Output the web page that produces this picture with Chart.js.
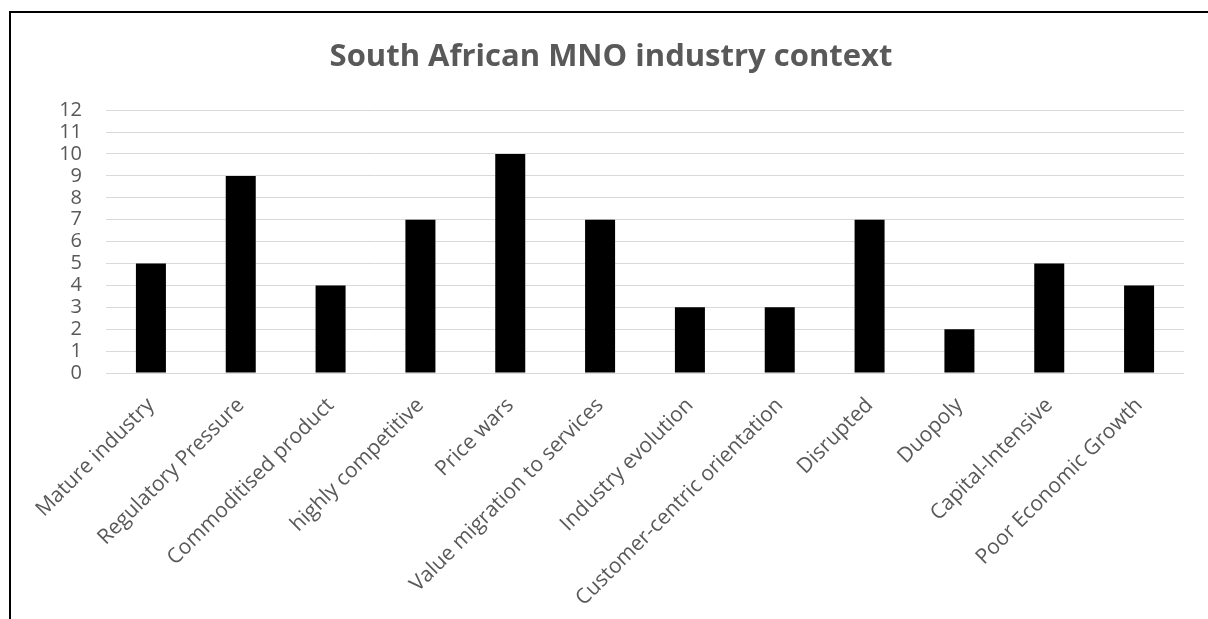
<!DOCTYPE html>
<html>
<head>
<meta charset="utf-8">
<script src="https://cdn.jsdelivr.net/npm/chart.js@4/dist/chart.umd.min.js"></script>
<style>
  html, body { margin: 0; padding: 0; background: #fff; overflow: hidden; }
  #wrap { position: relative; width: 1208px; height: 619px; }
  #frame { position: absolute; left: 9px; top: 11px; width: 1300px; height: 700px;
           border-left: 2px solid #000; border-top: 2px solid #000; box-sizing: border-box; }
  canvas { position: absolute; left: 0; top: 0; }
</style>
</head>
<body>
<div id="wrap">
  <canvas id="c" width="1208" height="619"></canvas>
  <div id="frame"></div>
</div>
<script>
const chartTitle = "South African MNO industry context";
const categories = [
  "Mature industry", "Regulatory Pressure", "Commoditised product", "highly competitive",
  "Price wars", "Value migration to services", "Industry evolution",
  "Customer-centric orientation", "Disrupted", "Duopoly", "Capital-Intensive",
  "Poor Economic Growth"
];
const values = [5, 9, 4, 7, 10, 7, 3, 3, 7, 2, 5, 4];
const yMin = 0, yMax = 12, yStep = 1;

const FONT = "'Open Sans', 'DejaVu Sans', sans-serif";
const GREY = "#595959";

new Chart(document.getElementById('c'), {
  type: 'bar',
  data: {
    labels: categories,
    datasets: [{
      data: values,
      backgroundColor: '#000000',
      borderWidth: 0,
      barPercentage: 0.334,
      categoryPercentage: 1.0
    }]
  },
  options: {
    responsive: false,
    animation: false,
    devicePixelRatio: 1,
    layout: { padding: { left: 38, right: 24, top: 0, bottom: 0 } },
    plugins: {
      legend: { display: false },
      tooltip: { enabled: false },
      title: {
        display: true,
        text: chartTitle,
        color: GREY,
        font: { family: FONT, size: 31, weight: 'bold', lineHeight: 1.2 },
        padding: { top: 39, bottom: 34 }
      }
    },
    scales: {
      x: {
        grid: { display: false, drawTicks: false },
        border: { display: false },
        ticks: {
          color: GREY,
          font: { family: FONT, size: 21 },
          minRotation: 45, maxRotation: 45,
          autoSkip: false,
          padding: 20
        },
        afterFit: (s) => { s.height = 246; }
      },
      y: {
        min: yMin, max: yMax,
        grid: { color: '#d9d9d9', lineWidth: 1, drawTicks: false },
        border: { display: false },
        ticks: {
          stepSize: yStep,
          autoSkip: false,
          color: GREY,
          font: { family: FONT, size: 20 },
          padding: 24
        },
        afterFit: (s) => { s.width = 68; }
      }
    }
  }
});
</script>
</body>
</html>
